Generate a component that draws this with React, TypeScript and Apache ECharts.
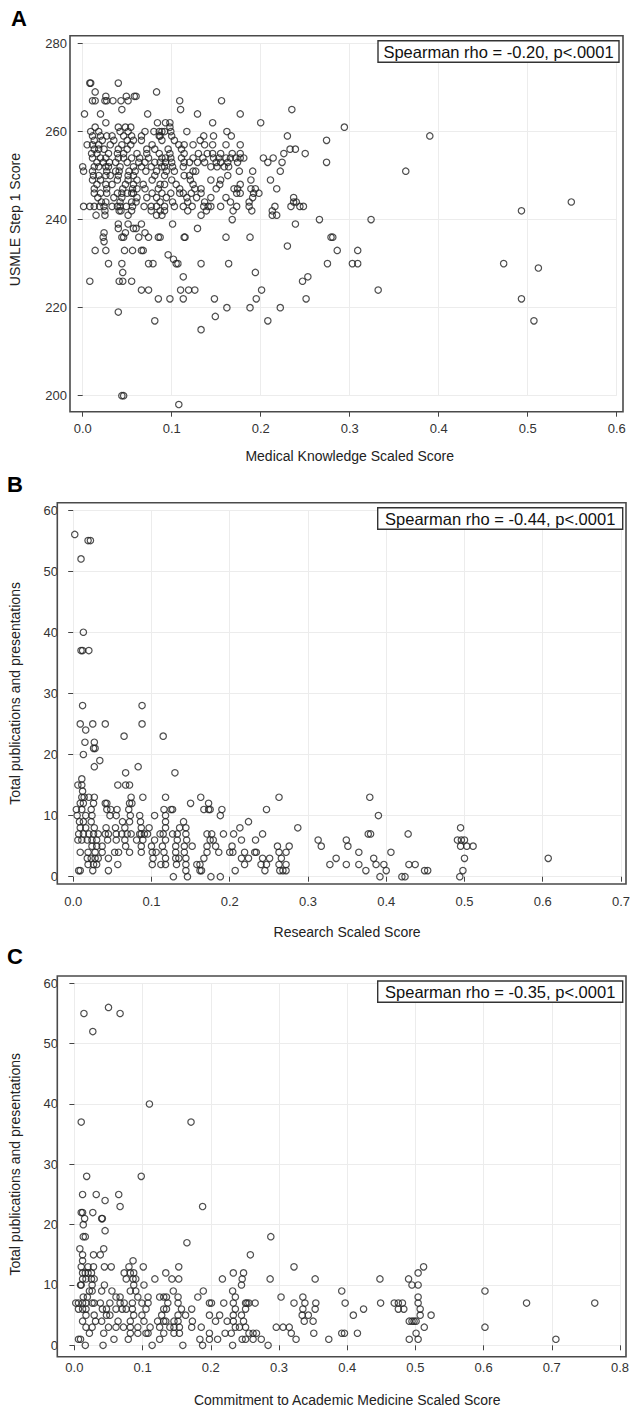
import React, { useEffect, useRef } from "react";
import * as echarts from "echarts";

// Panel A: USMLE Step 1 score (row value) vs Medical Knowledge Scaled Score (x list)
const step1ByMedKnowledge: [number, number[]][] = [
  [271, [0.008, 0.009, 0.04]],
  [269, [0.014, 0.083]],
  [268, [0.026, 0.049, 0.058, 0.06]],
  [267, [0.011, 0.014, 0.025, 0.027, 0.034, 0.043, 0.051, 0.109, 0.156]],
  [265, [0.044, 0.11, 0.235]],
  [264, [0.002, 0.02, 0.073, 0.129, 0.177]],
  [262, [0.026, 0.084, 0.093, 0.098, 0.146, 0.2]],
  [261, [0.014, 0.04, 0.048, 0.054, 0.098, 0.294]],
  [260, [0.009, 0.018, 0.042, 0.051, 0.07, 0.08, 0.086, 0.089, 0.092, 0.099, 0.117, 0.162]],
  [259, [0.011, 0.02, 0.027, 0.033, 0.046, 0.055, 0.066, 0.086, 0.087, 0.1, 0.136, 0.147, 0.167, 0.23, 0.39]],
  [258, [0.013, 0.022, 0.035, 0.05, 0.057, 0.066, 0.089, 0.103, 0.132, 0.274]],
  [257, [0.005, 0.011, 0.018, 0.031, 0.044, 0.054, 0.078, 0.108, 0.114, 0.124, 0.137, 0.146, 0.161, 0.177]],
  [256, [0.013, 0.018, 0.024, 0.04, 0.05, 0.072, 0.081, 0.096, 0.111, 0.233, 0.239]],
  [255, [0.01, 0.016, 0.029, 0.039, 0.046, 0.061, 0.072, 0.086, 0.098, 0.114, 0.13, 0.14, 0.146, 0.155, 0.168, 0.177, 0.226, 0.25]],
  [254, [0.011, 0.02, 0.026, 0.04, 0.046, 0.055, 0.064, 0.074, 0.089, 0.093, 0.099, 0.111, 0.124, 0.135, 0.147, 0.153, 0.161, 0.166, 0.172, 0.177, 0.181, 0.203, 0.214]],
  [253, [0.016, 0.023, 0.03, 0.037, 0.05, 0.063, 0.07, 0.081, 0.087, 0.093, 0.1, 0.114, 0.12, 0.129, 0.137, 0.15, 0.155, 0.163, 0.174, 0.208, 0.224, 0.274]],
  [252, [0.0, 0.013, 0.018, 0.026, 0.029, 0.042, 0.057, 0.066, 0.077, 0.089, 0.092, 0.101, 0.113, 0.144, 0.151, 0.159, 0.164]],
  [251, [0.001, 0.011, 0.027, 0.037, 0.041, 0.052, 0.059, 0.071, 0.083, 0.094, 0.103, 0.124, 0.127, 0.176, 0.191, 0.222, 0.363]],
  [250, [0.012, 0.018, 0.026, 0.031, 0.04, 0.051, 0.057, 0.081, 0.092, 0.114, 0.12, 0.163]],
  [249, [0.011, 0.02, 0.039, 0.051, 0.061, 0.078, 0.1, 0.121, 0.144, 0.155, 0.189, 0.211]],
  [248, [0.016, 0.026, 0.033, 0.048, 0.057, 0.068, 0.087, 0.092, 0.105, 0.124, 0.154, 0.177]],
  [247, [0.013, 0.027, 0.045, 0.056, 0.061, 0.07, 0.085, 0.109, 0.126, 0.133, 0.15, 0.17, 0.174, 0.189, 0.194, 0.218]],
  [246, [0.013, 0.02, 0.027, 0.039, 0.044, 0.05, 0.055, 0.057, 0.078, 0.089, 0.099, 0.109, 0.113, 0.122, 0.133, 0.173, 0.177, 0.192, 0.198]],
  [245, [0.017, 0.035, 0.044, 0.061, 0.072, 0.083, 0.094, 0.117, 0.128, 0.144, 0.161, 0.191, 0.237]],
  [244, [0.021, 0.026, 0.042, 0.055, 0.06, 0.087, 0.101, 0.118, 0.137, 0.166, 0.187, 0.237, 0.24, 0.549]],
  [243, [0.001, 0.008, 0.013, 0.019, 0.024, 0.033, 0.039, 0.042, 0.049, 0.056, 0.069, 0.077, 0.083, 0.092, 0.103, 0.113, 0.123, 0.136, 0.141, 0.144, 0.155, 0.173, 0.187, 0.216, 0.234, 0.244, 0.248]],
  [242, [0.025, 0.041, 0.043, 0.055, 0.077, 0.087, 0.092, 0.118, 0.139, 0.169, 0.19, 0.213, 0.493]],
  [241, [0.015, 0.025, 0.051, 0.083, 0.089, 0.133, 0.213, 0.218]],
  [240, [0.168, 0.266, 0.324]],
  [239, [0.04, 0.051, 0.066, 0.101, 0.239]],
  [238, [0.04, 0.057, 0.06, 0.129]],
  [237, [0.024, 0.048, 0.07]],
  [236, [0.023, 0.044, 0.046, 0.063, 0.074, 0.085, 0.087, 0.114, 0.115, 0.161, 0.188, 0.279, 0.281]],
  [235, [0.024]],
  [234, [0.23]],
  [233, [0.014, 0.026, 0.047, 0.056, 0.066, 0.068, 0.286, 0.309]],
  [232, [0.096]],
  [231, [0.102]],
  [230, [0.029, 0.044, 0.074, 0.079, 0.105, 0.107, 0.133, 0.164, 0.275, 0.303, 0.309, 0.473]],
  [229, [0.512]],
  [228, [0.045, 0.194]],
  [227, [0.113, 0.253]],
  [226, [0.008, 0.041, 0.045, 0.055, 0.247]],
  [224, [0.066, 0.074, 0.11, 0.119, 0.126, 0.201, 0.332]],
  [222, [0.085, 0.098, 0.113, 0.148, 0.195, 0.251, 0.493]],
  [220, [0.162, 0.188, 0.222]],
  [219, [0.04]],
  [218, [0.149]],
  [217, [0.081, 0.208, 0.507]],
  [215, [0.133]],
  [200, [0.044, 0.046]],
  [198, [0.108]],
];

// Panel B: total publications (row value) vs Research Scaled Score (x list)
const pubsByResearch: [number, number[]][] = [
  [56, [0.002]],
  [55, [0.019, 0.022]],
  [52, [0.01]],
  [40, [0.013]],
  [37, [0.01, 0.012, 0.02]],
  [28, [0.012, 0.088]],
  [25, [0.009, 0.025, 0.041, 0.088]],
  [24, [0.016]],
  [23, [0.065, 0.115]],
  [22, [0.015, 0.027]],
  [21, [0.026, 0.028]],
  [20, [0.013]],
  [19, [0.034]],
  [18, [0.027, 0.083]],
  [17, [0.067, 0.13]],
  [16, [0.011]],
  [15, [0.006, 0.011, 0.057, 0.067, 0.072]],
  [14, [0.012]],
  [13, [0.011, 0.014, 0.02, 0.027, 0.074, 0.089, 0.118, 0.163, 0.263, 0.379]],
  [12, [0.009, 0.013, 0.026, 0.041, 0.043, 0.072, 0.075, 0.15, 0.173]],
  [11, [0.004, 0.011, 0.023, 0.043, 0.048, 0.056, 0.071, 0.116, 0.125, 0.127, 0.167, 0.173, 0.175, 0.19, 0.247]],
  [10, [0.005, 0.016, 0.024, 0.047, 0.055, 0.073, 0.085, 0.104, 0.118, 0.188, 0.39]],
  [9, [0.008, 0.013, 0.023, 0.063, 0.072, 0.086, 0.118, 0.141, 0.224]],
  [8, [0.009, 0.016, 0.027, 0.042, 0.054, 0.066, 0.087, 0.097, 0.118, 0.136, 0.144, 0.213, 0.287, 0.495]],
  [7, [0.007, 0.013, 0.02, 0.026, 0.032, 0.041, 0.045, 0.055, 0.062, 0.069, 0.074, 0.085, 0.087, 0.091, 0.095, 0.111, 0.115, 0.127, 0.133, 0.144, 0.171, 0.177, 0.192, 0.205, 0.242, 0.377, 0.38, 0.428]],
  [6, [0.006, 0.011, 0.018, 0.024, 0.03, 0.044, 0.055, 0.066, 0.081, 0.089, 0.104, 0.118, 0.133, 0.145, 0.175, 0.179, 0.215, 0.233, 0.313, 0.349, 0.491, 0.496, 0.5]],
  [5, [0.024, 0.03, 0.037, 0.067, 0.087, 0.1, 0.114, 0.131, 0.142, 0.152, 0.171, 0.182, 0.203, 0.261, 0.276, 0.317, 0.351, 0.495, 0.503, 0.511]],
  [4, [0.009, 0.019, 0.028, 0.037, 0.053, 0.058, 0.072, 0.087, 0.101, 0.106, 0.116, 0.131, 0.142, 0.171, 0.186, 0.2, 0.204, 0.219, 0.232, 0.234, 0.263, 0.272, 0.365, 0.406]],
  [3, [0.018, 0.023, 0.028, 0.032, 0.045, 0.102, 0.118, 0.131, 0.135, 0.144, 0.167, 0.215, 0.224, 0.242, 0.251, 0.266, 0.336, 0.384, 0.5, 0.607]],
  [2, [0.019, 0.026, 0.03, 0.057, 0.101, 0.112, 0.118, 0.132, 0.144, 0.158, 0.162, 0.219, 0.24, 0.247, 0.263, 0.272, 0.328, 0.349, 0.365, 0.387, 0.397, 0.429, 0.437]],
  [1, [0.007, 0.009, 0.025, 0.045, 0.144, 0.162, 0.164, 0.207, 0.245, 0.264, 0.268, 0.272, 0.374, 0.4, 0.449, 0.453, 0.498]],
  [0, [0.128, 0.146, 0.176, 0.188, 0.392, 0.42, 0.424, 0.494]],
];

// Panel C: total publications (row value) vs Commitment to Academic Medicine Scaled Score (x list)
const pubsByCommitment: [number, number[]][] = [
  [56, [0.05]],
  [55, [0.014, 0.067]],
  [52, [0.027]],
  [40, [0.11]],
  [37, [0.01, 0.171]],
  [28, [0.018, 0.098]],
  [25, [0.012, 0.032, 0.065]],
  [24, [0.045]],
  [23, [0.067, 0.188]],
  [22, [0.01, 0.012, 0.027]],
  [21, [0.015, 0.04, 0.041]],
  [20, [0.013]],
  [19, [0.045]],
  [18, [0.013, 0.016, 0.288]],
  [17, [0.165]],
  [16, [0.008, 0.043]],
  [15, [0.012, 0.028, 0.038, 0.258]],
  [14, [0.012, 0.086]],
  [13, [0.01, 0.02, 0.028, 0.044, 0.054, 0.08, 0.101, 0.153, 0.322, 0.512]],
  [12, [0.012, 0.016, 0.02, 0.025, 0.073, 0.082, 0.087, 0.134, 0.233, 0.248, 0.504]],
  [11, [0.012, 0.017, 0.025, 0.029, 0.076, 0.086, 0.09, 0.118, 0.143, 0.153, 0.217, 0.246, 0.287, 0.353, 0.448, 0.49]],
  [10, [0.009, 0.01, 0.026, 0.044, 0.087, 0.102, 0.245, 0.495, 0.504]],
  [9, [0.022, 0.026, 0.04, 0.055, 0.082, 0.09, 0.145, 0.189, 0.232, 0.392, 0.602]],
  [8, [0.013, 0.019, 0.061, 0.067, 0.093, 0.108, 0.125, 0.131, 0.135, 0.152, 0.181, 0.236, 0.303, 0.335, 0.504]],
  [7, [0.002, 0.006, 0.012, 0.017, 0.026, 0.029, 0.038, 0.052, 0.067, 0.073, 0.085, 0.099, 0.108, 0.137, 0.152, 0.198, 0.201, 0.219, 0.233, 0.251, 0.253, 0.256, 0.265, 0.322, 0.338, 0.354, 0.397, 0.449, 0.469, 0.475, 0.481, 0.504, 0.663, 0.763]],
  [6, [0.006, 0.012, 0.017, 0.041, 0.047, 0.061, 0.07, 0.076, 0.085, 0.105, 0.131, 0.135, 0.157, 0.172, 0.236, 0.251, 0.335, 0.353, 0.424, 0.475, 0.483, 0.507]],
  [5, [0.017, 0.029, 0.047, 0.052, 0.087, 0.099, 0.128, 0.152, 0.163, 0.198, 0.213, 0.233, 0.245, 0.334, 0.343, 0.409, 0.507, 0.523]],
  [4, [0.012, 0.031, 0.04, 0.064, 0.082, 0.102, 0.122, 0.131, 0.134, 0.146, 0.152, 0.173, 0.207, 0.224, 0.233, 0.248, 0.337, 0.35, 0.491, 0.495, 0.498, 0.501]],
  [3, [0.017, 0.026, 0.05, 0.061, 0.072, 0.082, 0.093, 0.111, 0.125, 0.14, 0.146, 0.154, 0.172, 0.186, 0.236, 0.242, 0.251, 0.296, 0.306, 0.315, 0.513, 0.602]],
  [2, [0.022, 0.043, 0.082, 0.093, 0.105, 0.108, 0.131, 0.146, 0.154, 0.198, 0.221, 0.23, 0.256, 0.262, 0.267, 0.318, 0.351, 0.392, 0.396, 0.415, 0.501]],
  [1, [0.006, 0.009, 0.058, 0.079, 0.125, 0.184, 0.198, 0.21, 0.246, 0.251, 0.262, 0.274, 0.325, 0.373, 0.491, 0.504, 0.706]],
  [0, [0.016, 0.042, 0.114, 0.159, 0.188, 0.232, 0.284]],
];

const panelLetters = ["A", "B", "C"];
const xTitles = [
  "Medical Knowledge Scaled Score",
  "Research Scaled Score",
  "Commitment to Academic Medicine Scaled Score",
];
const yTitles = ["USMLE Step 1 Score", "Total publications and presentations", "Total publications and presentations"];
const statLabels = [
  "Spearman rho = -0.20, p<.0001",
  "Spearman rho = -0.44, p<.0001",
  "Spearman rho = -0.35, p<.0001",
];
const xRanges = [
  { min: 0, max: 0.6, interval: 0.1 },
  { min: 0, max: 0.7, interval: 0.1 },
  { min: 0, max: 0.8, interval: 0.1 },
];
const yRanges = [
  { min: 200, max: 280, interval: 20 },
  { min: 0, max: 60, interval: 10 },
  { min: 0, max: 60, interval: 10 },
];

const toPoints = (rows: [number, number[]][]) => {
  const pts: number[][] = [];
  for (const [y, xs] of rows) for (const x of xs) pts.push([x, y]);
  return pts;
};

const FONT = "Arial, 'Liberation Sans', Helvetica, sans-serif";

// layout (pixels)
const grids = [
  { left: 76.7, right: 17.3, top: 43.5, bottom: 1012.3 },
  { left: 63.5, right: 13, top: 510, bottom: 531.3 },
  { left: 64.7, right: 14, top: 983.3, bottom: 57 },
];
const frames = [
  { x: 70, y: 35.7, w: 553, h: 376 },
  { x: 57.3, y: 502.7, w: 568.7, h: 381.3 },
  { x: 57.3, y: 976, w: 568.7, h: 380.7 },
];
const yOffsets = [6.7, 6.2, 7.4];
const xOffsets = [16, 7.3, 5.7];
const xLabelMargins = [10, 11, 10];
const xNameGaps = [37, 41, 42];
const yNameGaps = [54, 45, 45];
const letterPos = [
  { x: 11, y: 7 },
  { x: 7, y: 473 },
  { x: 7, y: 945 },
];
const statBoxes = [
  { x: 378, y: 40.7, w: 241, h: 21.6 },
  { x: 377.7, y: 507.7, w: 245, h: 21.6 },
  { x: 377.7, y: 981, w: 245, h: 21.3 },
];

export default function App() {
  const ref = useRef<HTMLDivElement>(null);
  useEffect(() => {
    if (!ref.current) return;
    const chart = echarts.init(ref.current, undefined, { renderer: "svg" });
    const datasets = [step1ByMedKnowledge, pubsByResearch, pubsByCommitment].map(toPoints);

    const graphic: any[] = [];
    frames.forEach((f) => {
      graphic.push({
        type: "rect",
        shape: { x: f.x, y: f.y, width: f.w, height: f.h },
        style: { fill: "none", stroke: "#4a4a4a", lineWidth: 1.6 },
        z: 10,
      });
    });
    panelLetters.forEach((l, i) => {
      graphic.push({
        type: "text",
        x: letterPos[i].x,
        y: letterPos[i].y,
        style: { text: l, font: `bold 22px ${FONT}`, fill: "#000" },
        z: 10,
      });
    });
    statBoxes.forEach((b, i) => {
      graphic.push({
        type: "rect",
        shape: { x: b.x, y: b.y, width: b.w, height: b.h },
        style: { fill: "#fff", stroke: "#333", lineWidth: 1.4 },
        z: 11,
      });
      graphic.push({
        type: "text",
        x: b.x + b.w / 2,
        y: b.y + b.h / 2 + 0.5,
        style: {
          text: statLabels[i],
          font: `16.5px ${FONT}`,
          fill: "#111",
          textAlign: "center",
          textVerticalAlign: "middle",
        },
        z: 12,
      });
    });

    const option: any = {
      animation: false,
      backgroundColor: "#fff",
      grid: grids.map((g) => ({ ...g, containLabel: false })),
      xAxis: xRanges.map((r, i) => ({
        type: "value",
        gridIndex: i,
        min: r.min,
        max: r.max,
        interval: r.interval,
        offset: xOffsets[i],
        axisLine: { show: false },
        axisTick: { show: true, length: 5, lineStyle: { color: "#444", width: 1 } },
        axisLabel: {
          margin: xLabelMargins[i],
          fontSize: 13,
          color: "#333",
          fontFamily: FONT,
          formatter: (v: number) => v.toFixed(1),
        },
        splitLine: { show: true, lineStyle: { color: "#ececec", width: 1 } },
        name: xTitles[i],
        nameLocation: "middle",
        nameGap: xNameGaps[i],
        nameTextStyle: { fontSize: 14, color: "#222", fontFamily: FONT },
      })),
      yAxis: yRanges.map((r, i) => ({
        type: "value",
        gridIndex: i,
        min: r.min,
        max: r.max,
        interval: r.interval,
        offset: yOffsets[i],
        axisLine: { show: false },
        axisTick: { show: true, length: 5, lineStyle: { color: "#444", width: 1 } },
        axisLabel: { margin: 9, fontSize: 13, color: "#333", fontFamily: FONT },
        splitLine: { show: true, lineStyle: { color: "#ececec", width: 1 } },
        name: yTitles[i],
        nameLocation: "middle",
        nameGap: yNameGaps[i],
        nameRotate: 90,
        nameTextStyle: { fontSize: 14, color: "#222", fontFamily: FONT },
      })),
      series: datasets.map((d, i) => ({
        type: "scatter",
        xAxisIndex: i,
        yAxisIndex: i,
        data: d,
        symbol: "circle",
        symbolSize: 6.4,
        clip: false,
        silent: true,
        itemStyle: { color: "rgba(0,0,0,0)", borderColor: "#222", borderWidth: 1.2 },
      })),
      graphic,
    };
    chart.setOption(option);
    return () => chart.dispose();
  }, []);
  return (
    <div
      ref={ref}
      style={{ position: "absolute", left: 0, top: 0, width: 634, height: 1408, background: "#fff" }}
    />
  );
}
